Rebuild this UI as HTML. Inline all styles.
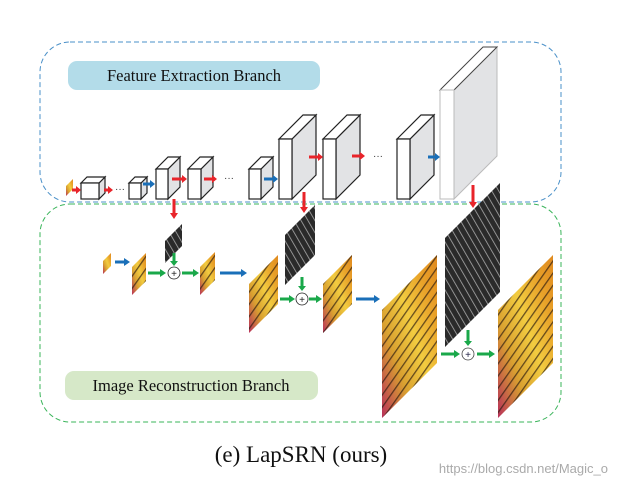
<!DOCTYPE html>
<html><head><meta charset="utf-8"><style>
html,body{margin:0;padding:0;background:#fff;}
svg{display:block;}
</style></head><body>
<svg width="618" height="488" viewBox="0 0 618 488" xmlns="http://www.w3.org/2000/svg">
<defs>
<linearGradient id="bf" x1="0" y1="1" x2="1" y2="0">
<stop offset="0" stop-color="#b8305a"/><stop offset="0.3" stop-color="#d9a030"/><stop offset="0.55" stop-color="#f2cc40"/><stop offset="0.8" stop-color="#e8a028"/><stop offset="1" stop-color="#e08a20"/>
</linearGradient>
<pattern id="bl" width="7" height="7" patternUnits="userSpaceOnUse" patternTransform="rotate(35)">
<rect width="7" height="7" fill="none"/><rect width="1.3" height="7" fill="#2a1a10" opacity="0.7"/>
</pattern>
<pattern id="ed" width="6" height="6" patternUnits="userSpaceOnUse" patternTransform="rotate(-30)">
<rect width="6" height="6" fill="#2a2a2a"/><rect width="0.8" height="6" fill="#aaa"/>
</pattern>
</defs>
<style>
.cf{fill:#fff;stroke:#222;stroke-width:1.2}
.cs{fill:#e2e3e5;stroke:#222;stroke-width:1.2}
.r{stroke:#e8242a;stroke-width:3}
.b{stroke:#1a6fb8;stroke-width:3}
.g{stroke:#1aa84a;stroke-width:3}
</style>
<rect x="40" y="42" width="521" height="160" rx="30" fill="none" stroke="#4a90c8" stroke-width="1" stroke-dasharray="5,3"/>
<rect x="40" y="204" width="521" height="218" rx="30" fill="none" stroke="#3ab45a" stroke-width="1" stroke-dasharray="5,3"/>
<rect x="68" y="61" width="252" height="29" rx="9" fill="#b3dce9"/>
<text x="194" y="81" text-anchor="middle" font-family="Liberation Serif,serif" font-size="16.5" fill="#111">Feature Extraction Branch</text>
<rect x="65" y="371" width="253" height="29" rx="9" fill="#d6e8c8"/>
<text x="191" y="391" text-anchor="middle" font-family="Liberation Serif,serif" font-size="16.5" fill="#111">Image Reconstruction Branch</text>

<g>
<polygon class="cs" points="99,183 105,177 105,193 99,199"/><polygon class="cf" points="81,183 87,177 105,177 99,183"/><rect class="cf" x="81" y="183" width="18" height="16"/>
<polygon class="cs" points="141,183 147,177 147,193 141,199"/><polygon class="cf" points="129,183 135,177 147,177 141,183"/><rect class="cf" x="129" y="183" width="12" height="16"/>
<polygon class="cs" points="168,169 180,157 180,187 168,199"/><polygon class="cf" points="156,169 168,157 180,157 168,169"/><rect class="cf" x="156" y="169" width="12" height="30"/>
<polygon class="cs" points="201,169 213,157 213,187 201,199"/><polygon class="cf" points="188,169 200,157 213,157 201,169"/><rect class="cf" x="188" y="169" width="13" height="30"/>
<polygon class="cs" points="261,169 273,157 273,187 261,199"/><polygon class="cf" points="249,169 261,157 273,157 261,169"/><rect class="cf" x="249" y="169" width="12" height="30"/>
<polygon class="cs" points="292,139 316,115 316,175 292,199"/><polygon class="cf" points="279,139 303,115 316,115 292,139"/><rect class="cf" x="279" y="139" width="13" height="60"/>
<polygon class="cs" points="336,139 360,115 360,175 336,199"/><polygon class="cf" points="323,139 347,115 360,115 336,139"/><rect class="cf" x="323" y="139" width="13" height="60"/>
<polygon class="cs" points="410,139 434,115 434,175 410,199"/><polygon class="cf" points="397,139 421,115 434,115 410,139"/><rect class="cf" x="397" y="139" width="13" height="60"/>
<polygon points="454,90 497,47 497,156 454,199" fill="#e2e3e5" stroke="#bbb"/><polygon points="440,90 483,47 497,47 454,90" fill="#fff" stroke="#444"/><rect x="440" y="90" width="14" height="109" fill="#fff" stroke="#bbb"/>
</g>
<polygon points="66,186 73,179 73,189 66,196" fill="url(#bf)"/>
<g>
<line class="r" x1="72" y1="190" x2="76" y2="190"/><polygon points="76,186 81,190 76,194" fill="#e8242a"/>
<line class="r" x1="104" y1="190" x2="108" y2="190"/><polygon points="108,186 113,190 108,194" fill="#e8242a"/>
<text x="115" y="192" font-family="Liberation Sans,sans-serif" font-size="10" fill="#333">···</text>
<line class="b" x1="143" y1="184" x2="150" y2="184"/><polygon points="150,180 155,184 150,188" fill="#1a6fb8"/>
<line class="r" x1="172" y1="179" x2="182" y2="179"/><polygon points="182,175 187,179 182,183" fill="#e8242a"/>
<line class="r" x1="204" y1="179" x2="212" y2="179"/><polygon points="212,175 217,179 212,183" fill="#e8242a"/>
<text x="224" y="181" font-family="Liberation Sans,sans-serif" font-size="10" fill="#333">···</text>
<line class="b" x1="264" y1="179" x2="273" y2="179"/><polygon points="273,175 278,179 273,183" fill="#1a6fb8"/>
<line class="r" x1="309" y1="157" x2="318" y2="157"/><polygon points="318,153 323,157 318,161" fill="#e8242a"/>
<line class="r" x1="352" y1="156" x2="360" y2="156"/><polygon points="360,152 365,156 360,160" fill="#e8242a"/>
<text x="373" y="159" font-family="Liberation Sans,sans-serif" font-size="10" fill="#333">···</text>
<line class="b" x1="428" y1="157" x2="435" y2="157"/><polygon points="435,153 440,157 435,161" fill="#1a6fb8"/>
<line class="r" x1="174" y1="199" x2="174" y2="213"/><polygon points="170,213 174,219 178,213" fill="#e8242a"/>
<line class="r" x1="304" y1="192" x2="304" y2="207"/><polygon points="300,207 304,213 308,207" fill="#e8242a"/>
<line class="r" x1="473" y1="185" x2="473" y2="202"/><polygon points="469,202 473,208 477,202" fill="#e8242a"/>
</g>
<g>
<polygon points="165,241 182,224 182,246 165,263" fill="url(#ed)"/>
<polygon points="285,235 315,205 315,255 285,285" fill="url(#ed)"/>
<polygon points="445,238 500,183 500,292 445,347" fill="url(#ed)"/>
<polygon points="103,261 111,253 111,266 103,274" fill="url(#bf)"/>
<polygon points="132,267 146,253 146,281 132,295" fill="url(#bf)"/><polygon points="132,267 146,253 146,281 132,295" fill="url(#bl)"/>
<polygon points="200,267 215,252 215,280 200,295" fill="url(#bf)"/><polygon points="200,267 215,252 215,280 200,295" fill="url(#bl)"/>
<polygon points="249,284 278,255 278,304 249,333" fill="url(#bf)"/><polygon points="249,284 278,255 278,304 249,333" fill="url(#bl)"/>
<polygon points="323,284 352,255 352,304 323,333" fill="url(#bf)"/><polygon points="323,284 352,255 352,304 323,333" fill="url(#bl)"/>
<polygon points="382,310 437,255 437,363 382,418" fill="url(#bf)"/><polygon points="382,310 437,255 437,363 382,418" fill="url(#bl)"/>
<polygon points="498,310 553,255 553,363 498,418" fill="url(#bf)"/><polygon points="498,310 553,255 553,363 498,418" fill="url(#bl)"/>
</g>
<g>
<line class="b" x1="115" y1="262" x2="124" y2="262"/><polygon points="124,258 130,262 124,266" fill="#1a6fb8"/>
<line class="g" x1="148" y1="273" x2="160" y2="273"/><polygon points="160,269 166,273 160,277" fill="#1aa84a"/>
<line class="g" x1="174" y1="253" x2="174" y2="261"/><polygon points="170,261 174,266 178,261" fill="#1aa84a"/>
<circle cx="174" cy="273" r="6" fill="#fff" stroke="#222" stroke-width="0.8"/><text x="174" y="277" text-anchor="middle" font-family="Liberation Sans,sans-serif" font-size="10" fill="#222">+</text>
<line class="g" x1="182" y1="273" x2="193" y2="273"/><polygon points="193,269 199,273 193,277" fill="#1aa84a"/>
<line class="b" x1="220" y1="273" x2="241" y2="273"/><polygon points="241,269 247,273 241,277" fill="#1a6fb8"/>
<line class="g" x1="302" y1="277" x2="302" y2="286"/><polygon points="298,286 302,291 306,286" fill="#1aa84a"/>
<circle cx="302" cy="299" r="6" fill="#fff" stroke="#222" stroke-width="0.8"/><text x="302" y="303" text-anchor="middle" font-family="Liberation Sans,sans-serif" font-size="10" fill="#222">+</text>
<line class="g" x1="280" y1="299" x2="289" y2="299"/><polygon points="289,295 295,299 289,303" fill="#1aa84a"/>
<line class="g" x1="309" y1="299" x2="316" y2="299"/><polygon points="316,295 322,299 316,303" fill="#1aa84a"/>
<line class="b" x1="356" y1="299" x2="374" y2="299"/><polygon points="374,295 380,299 374,303" fill="#1a6fb8"/>
<line class="g" x1="468" y1="330" x2="468" y2="341"/><polygon points="464,341 468,346 472,341" fill="#1aa84a"/>
<circle cx="468" cy="354" r="6" fill="#fff" stroke="#444" stroke-width="0.8"/><text x="468" y="358" text-anchor="middle" font-family="Liberation Sans,sans-serif" font-size="10" fill="#224">+</text>
<line class="g" x1="441" y1="354" x2="454" y2="354"/><polygon points="454,350 460,354 454,358" fill="#1aa84a"/>
<line class="g" x1="477" y1="354" x2="489" y2="354"/><polygon points="489,350 495,354 489,358" fill="#1aa84a"/>
</g>
<text x="301" y="462" text-anchor="middle" font-family="Liberation Serif,serif" font-size="23" fill="#111">(e) LapSRN (ours)</text>
<text x="608" y="473" text-anchor="end" font-family="Liberation Sans,sans-serif" font-size="13" fill="#aaa">https://blog.csdn.net/Magic_o</text>
</svg>
</body></html>
